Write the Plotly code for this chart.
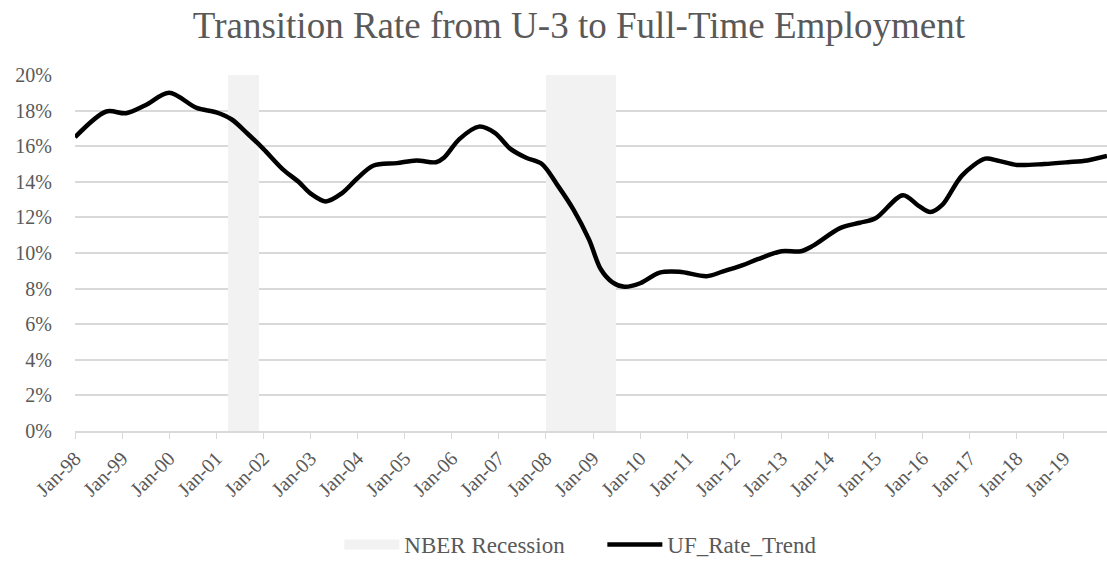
import pandas as pd
import plotly.graph_objects as go

# --- data ---
dates = ["1998-01-01","1998-09-01","1999-02-01","1999-07-01","2000-01-01","2000-08-01",
         "2001-01-01","2001-05-01","2001-09-01","2002-01-01","2002-06-01","2002-10-01",
         "2003-01-01","2003-05-01","2003-09-01","2004-01-01","2004-05-01","2004-11-01",
         "2005-04-01","2005-09-01","2005-11-01","2006-03-01","2006-08-01","2006-12-01",
         "2007-04-01","2007-08-01","2007-12-01","2008-04-01","2008-08-01","2008-12-01",
         "2009-03-01","2009-06-01","2009-09-01","2010-01-01","2010-06-01","2010-11-01",
         "2011-06-01","2011-10-01","2012-03-01","2012-07-01","2013-01-01","2013-06-01",
         "2013-09-01","2014-04-01","2014-09-01","2015-01-01","2015-08-01","2015-12-01",
         "2016-03-01","2016-06-01","2016-11-01","2017-05-01","2017-08-01","2018-01-01",
         "2018-08-01","2019-02-01","2019-07-01","2019-12-01"]
uf_rate = [0.165,0.1795,0.1785,0.183,0.190,0.1815,
           0.179,0.175,0.167,0.1585,0.147,0.140,
           0.1335,0.129,0.1335,0.142,0.149,0.1505,
           0.152,0.151,0.1535,0.164,0.171,0.1675,
           0.1585,0.1535,0.150,0.138,0.1245,0.1075,
           0.091,0.0835,0.081,0.083,0.089,0.0895,
           0.087,0.0895,0.093,0.0965,0.101,0.101,
           0.104,0.114,0.117,0.1195,0.1325,0.1265,
           0.123,0.127,0.1435,0.153,0.152,0.1495,
           0.150,0.151,0.152,0.1545]

rec_start = ["2001-04-01","2008-01-01"]
rec_end = ["2001-12-01","2009-07-01"]
rec_top = [0.20, 0.20]

year_ticks = [f"{y}-01-01" for y in range(1998, 2020)]
year_labels = [f"Jan-{str(y)[2:]}" for y in range(1998, 2020)]

# --- figure ---
FONT = "Liberation Serif"
GREY = "#595959"
GRID = "#d9d9d9"
REC = "#f2f2f2"

s = pd.to_datetime(rec_start)
e = pd.to_datetime(rec_end)
mid = s + (e - s) / 2
widths = [(b - a).total_seconds() * 1000 for a, b in zip(s, e)]

fig = go.Figure()
fig.add_trace(go.Bar(x=mid, y=rec_top, width=widths, name="NBER Recession",
                     showlegend=False, legendgroup="rec",
                     marker=dict(color=REC, line=dict(width=0))))
# legend swatch for the recession shading (wide rectangle like the original)
fig.add_trace(go.Scatter(x=[None], y=[None], mode="lines", name="NBER Recession",
                         legendgroup="rec", line=dict(color=REC, width=12)))
fig.add_trace(go.Scatter(x=pd.to_datetime(dates), y=uf_rate, mode="lines",
                         name="UF_Rate_Trend",
                         line=dict(color="black", width=4.5, shape="spline", smoothing=0.9)))

fig.update_layout(
    width=1107, height=566,
    margin=dict(l=75, r=0, t=75, b=131),
    paper_bgcolor="white", plot_bgcolor="white",
    font=dict(family=FONT, color=GREY, size=20),
    title=dict(text="Transition Rate from U-3 to Full-Time Employment",
               x=0.523, xanchor="center", y=0.955, yanchor="middle",
               font=dict(family=FONT, size=37, color=GREY)),
    showlegend=True,
    legend=dict(orientation="h", x=0.511, xanchor="center", y=-0.32, yanchor="middle",
                font=dict(family=FONT, size=23, color=GREY), itemwidth=55,
                entrywidth=193, entrywidthmode="pixels",
                traceorder="normal"),
    bargap=0,
)
fig.update_xaxes(type="date", range=["1998-01-01", "2019-12-01"],
                 tickvals=year_ticks, ticktext=year_labels, tickangle=-45,
                 showgrid=False, showline=True, linecolor=GRID, linewidth=1.5,
                 ticks="outside", ticklen=6, tickcolor=GRID,
                 tickfont=dict(family=FONT, size=20, color=GREY))
fig.update_yaxes(range=[0, 0.20], dtick=0.02, tickformat=".0%",
                 showgrid=True, gridcolor=GRID, gridwidth=1.5, zeroline=False,
                 showline=False, ticks="", ticklabelstandoff=22,
                 tickfont=dict(family=FONT, size=20, color=GREY))

fig.write_html("out.html")
